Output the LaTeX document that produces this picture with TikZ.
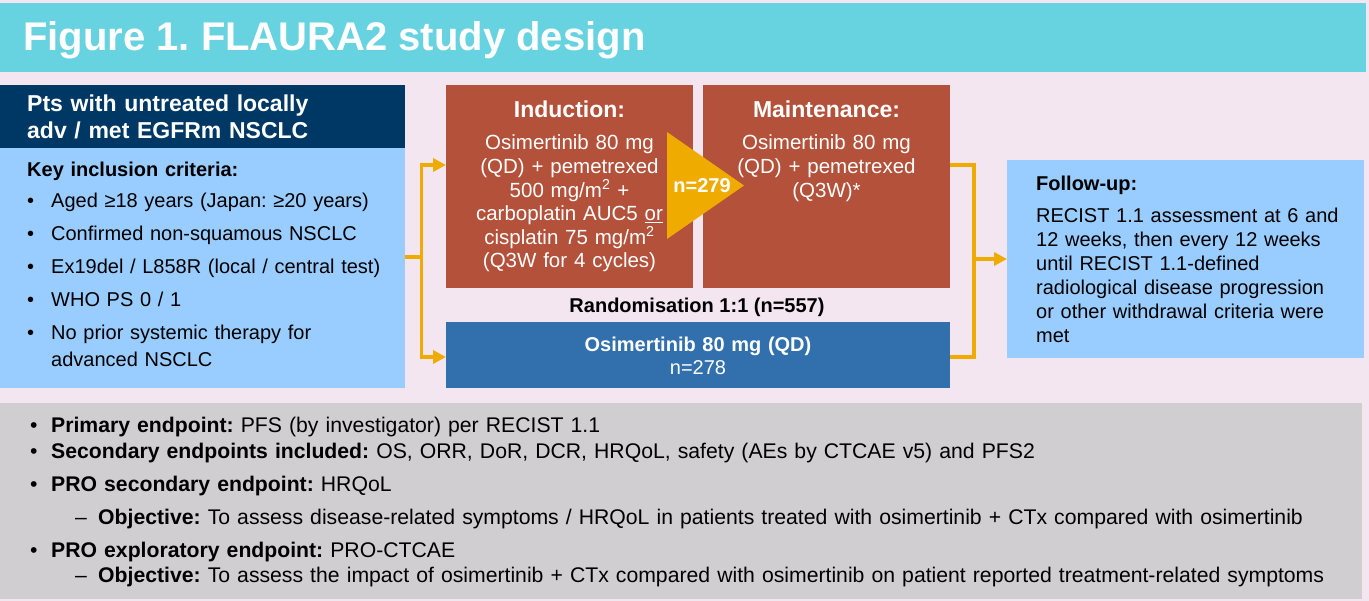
\documentclass[tikz,border=0pt]{standalone}
\usepackage{fontspec}
\setmainfont{Liberation Sans}
\usetikzlibrary{arrows.meta,positioning}
\definecolor{bgpink}{RGB}{243,230,240}
\definecolor{titlecyan}{RGB}{104,211,224}
\definecolor{navyhd}{RGB}{0,56,101}
\definecolor{critblue}{RGB}{153,204,255}
\definecolor{rust}{RGB}{180,81,58}
\definecolor{flow}{RGB}{240,171,0}
\definecolor{osiblue}{RGB}{49,112,172}
\definecolor{endgray}{RGB}{208,206,208}
\newcommand\bpt{\makebox[24pt][l]{•}}
\newcommand\ept{\makebox[21pt][l]{•}}
\AtBeginDocument{\frenchspacing}

\begin{document}
\begin{tikzpicture}[x=1pt,y=-1pt,
  box/.style={anchor=north west, inner sep=0pt, outer sep=0pt},
  body/.style={inner sep=0pt, font=\fontsize{20}{24}\selectfont},
  armtx/.style={inner sep=0pt, anchor=base, text width=240pt, align=center,
    text=white, font=\fontsize{20.5}{23.6}\selectfont},
  armhd/.style={inner sep=0pt, anchor=base, text=white, font=\fontsize{23}{27}\selectfont\bfseries},
  conn/.style={draw=flow, line width=3.5pt},
  arr/.style={-{Triangle[length=13pt,width=13pt]}}]
  \useasboundingbox (0,0) rectangle (1369,601);
  \fill[bgpink] (0,0) rectangle (1369,601);
  %% title band
  \node[box, fill=titlecyan, minimum width=1366, minimum height=69] (band) at (0,3) {};
  \node[inner sep=0pt, anchor=base west, text=white, font=\fontsize{40}{48}\selectfont\bfseries]
    (title) at (23,51) {Figure 1. FLAURA2 study design};
  %% patients + inclusion criteria
  \node[box, fill=navyhd, minimum width=405, minimum height=63] (hdr) at (0,85) {};
  \node[box, fill=critblue, minimum width=405, minimum height=240] (crit) at (0,148) {};
  \node[inner sep=0pt, anchor=base west, text width=375pt, align=left, text=white,
    font=\fontsize{23}{27}\selectfont\bfseries] (hdrtx) at (27,112)
    {Pts with untreated locally\\adv / met EGFRm NSCLC};
  \node[body, anchor=base west, text width=375pt, align=left, font=\fontsize{20}{27}\selectfont]
    (crittx) at (27,177)
    {\textbf{Key inclusion criteria:}\\[4pt]
     \bpt Aged ≥18 years (Japan: ≥20 years)\\[6pt]
     \bpt Confirmed non-squamous NSCLC\\[6pt]
     \bpt Ex19del / L858R (local / central test)\\[6pt]
     \bpt WHO PS 0 / 1\\[6pt]
     \bpt No prior systemic therapy for\\
     \hspace*{24pt}advanced NSCLC};
  %% treatment arms
  \node[box, fill=rust, minimum width=247, minimum height=203] (ind) at (446,85) {};
  \node[box, fill=rust, minimum width=247, minimum height=203] (maint) at (703,85) {};
  \node[box, fill=osiblue, minimum width=504, minimum height=66] (osi) at (446,322) {};
  \node[armhd] (indhd) at ([yshift=-33pt]ind.north) {Induction:};
  \node[armtx] (indtx) at ([yshift=-65pt]ind.north)
    {Osimertinib 80 mg\\(QD) + pemetrexed\\500 mg/m\textsuperscript{2} +\\
     carboplatin AUC5 \underline{or}\\cisplatin 75 mg/m\textsuperscript{2}\\(Q3W for 4 cycles)};
  \node[armhd] (mainthd) at ([yshift=-33pt]maint.north) {Maintenance:};
  \node[armtx] (mainttx) at ([yshift=-65pt]maint.north)
    {Osimertinib 80 mg\\(QD) + pemetrexed\\(Q3W)*};
  \fill[flow] (667,132) -- (744,185.5) -- (667,239) -- cycle;
  \node[inner sep=0pt, anchor=base, text=white, font=\fontsize{20}{24}\selectfont\bfseries]
    (nind) at (702,193) {n=279};
  \node[inner sep=0pt, anchor=base, font=\fontsize{20}{24}\selectfont\bfseries]
    (rand) at ([xshift=-1pt,yshift=9pt]osi.north) {Randomisation 1:1 (n=557)};
  \node[armtx, font=\fontsize{20}{23}\selectfont] (ositx) at ([yshift=-30pt]osi.north)
    {\textbf{Osimertinib 80 mg (QD)}\\n=278};
  %% follow-up
  \node[box, fill=critblue, minimum width=357, minimum height=198] (fu) at (1007,160) {};
  \node[body, anchor=base west, text width=320pt, align=left] (futx) at (1036,191)
    {\textbf{Follow-up:}\\[8pt]
     RECIST 1.1 assessment at 6 and\\12 weeks, then every 12 weeks\\
     until RECIST 1.1-defined\\radiological disease progression\\
     or other withdrawal criteria were\\met};
  %% connectors
  \coordinate (split) at (421.5,257);
  \coordinate (merge) at (974,259);
  \draw[conn] (crit.east |- split) -- (split);
  \draw[conn,arr] (split) |- ([yshift=21.5pt]ind.west);
  \draw[conn,arr] (split) |- ([yshift=-2pt]osi.west);
  \draw[conn] ([yshift=21.5pt]maint.east) -| (merge) |- ([yshift=-2pt]osi.east);
  \draw[conn,arr] (merge) -- (fu.west);
  %% endpoints
  \node[box, fill=endgray, minimum width=1362, minimum height=196] (ends) at (0,403) {};
  \node[inner sep=0pt, anchor=base west, text width=1335pt, align=left,
    font=\fontsize{21.2}{26}\selectfont] (endtx) at (30,433)
    {\ept\textbf{Primary endpoint:} PFS (by investigator) per RECIST 1.1\\
     \ept\textbf{Secondary endpoints included:} OS, ORR, DoR, DCR, HRQoL, safety (AEs by CTCAE v5) and PFS2\\[7pt]
     \ept\textbf{PRO secondary endpoint:} HRQoL\\[7pt]
     \hspace*{45pt}\makebox[23pt][l]{–}\textbf{Objective:} To assess disease-related symptoms / HRQoL in patients treated with osimertinib + CTx compared with osimertinib\\[7pt]
     \ept\textbf{PRO exploratory endpoint:} PRO-CTCAE\\[-1pt]
     \hspace*{45pt}\makebox[23pt][l]{–}\textbf{Objective:} To assess the impact of osimertinib + CTx compared with osimertinib on patient reported treatment-related symptoms};
\end{tikzpicture}
\end{document}
